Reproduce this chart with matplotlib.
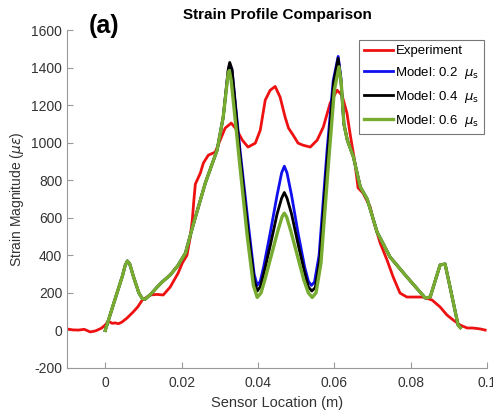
import numpy as np
import matplotlib
matplotlib.use("Agg")
import matplotlib.pyplot as plt

plt.rcParams['font.family'] = ['Liberation Sans', 'DejaVu Sans']
plt.rcParams['mathtext.fontset'] = 'dejavusans'
plt.rcParams['axes.unicode_minus'] = False

# experiment (red)
exp_x = [-0.01, -0.0085, -0.007, -0.0055, -0.0039, -0.0025, -0.001, 0, 0.0008, 0.0018, 0.0026,
         0.0035, 0.0044, 0.0057, 0.0073, 0.0085, 0.0097, 0.0118, 0.0135, 0.0152, 0.017, 0.0191,
         0.0202, 0.0214, 0.0222, 0.0228, 0.0232, 0.0236, 0.0249, 0.0257, 0.027, 0.0288, 0.0301,
         0.0314, 0.033, 0.0345, 0.0359, 0.0374, 0.0393, 0.0406, 0.0419, 0.0432, 0.0445, 0.0458,
         0.0471, 0.048, 0.0492, 0.0505, 0.0518, 0.0537, 0.0555, 0.0571, 0.0589, 0.0607, 0.062,
         0.0633, 0.0641, 0.0654, 0.0662, 0.0675, 0.0694, 0.0702, 0.072, 0.0738, 0.0754, 0.0772,
         0.079, 0.0806, 0.0832, 0.0856, 0.0877, 0.0895, 0.0911, 0.0929, 0.0948, 0.0963, 0.0982,
         0.0995]
exp_y = [8, 3, 2, 6, -8, -2, 12, 29, 50, 38, 40,
         36, 45, 66, 98, 125, 162, 189, 192, 189, 231, 306,
         360, 400, 490, 588, 690, 780, 838, 892, 934, 950, 1014,
         1078, 1105, 1067, 1014, 977, 998, 1067, 1227, 1280, 1300, 1243,
         1137, 1078, 1041, 998, 987, 977, 1014, 1083, 1211, 1280, 1254,
         1158, 1051, 892, 760, 732, 657, 588, 466, 375, 285, 199,
         178, 178, 178, 162, 125, 82, 56, 29, 13, 13, 8,
         2]

# model curves: shared outer parts
mod_left_x = [0, 0.002, 0.0045, 0.0052, 0.0058, 0.0064, 0.0075, 0.0088, 0.0097, 0.0105, 0.012,
              0.0136, 0.015, 0.017, 0.019, 0.021, 0.023, 0.0262, 0.0293, 0.0309]
mod_left_y = [0, 130, 290, 345, 370, 355, 280, 200, 170, 167, 195,
              231, 260, 295, 345, 412, 560, 785, 961, 1137]
mod_right_x = [0.0634, 0.065, 0.0668, 0.0686, 0.0712, 0.0746, 0.079, 0.0838, 0.0851, 0.0877,
               0.089, 0.0903, 0.0924, 0.093]
mod_right_y = [1014, 924, 764, 700, 524, 391, 285, 173, 178, 349,
               354, 231, 29, 15]

# central parts, one per model
blue_cx = [0.0322, 0.0326, 0.0332, 0.0353, 0.0375, 0.039, 0.0398, 0.0406, 0.0415, 0.0432, 0.045,
           0.0462, 0.0469, 0.0476, 0.0488, 0.0505, 0.0522, 0.0532, 0.054, 0.0548, 0.056, 0.0581,
           0.0597, 0.061, 0.0617, 0.0625]
blue_cy = [1380, 1420, 1390, 961, 560, 300, 240, 262, 340, 519, 720,
           840, 875, 840, 720, 519, 340, 262, 240, 258, 400, 961,
           1330, 1460, 1350, 1100]
black_cx = [0.0322, 0.0326, 0.0332, 0.0352, 0.0374, 0.039, 0.0398, 0.0406, 0.0416, 0.0433, 0.045,
            0.0462, 0.0469, 0.0476, 0.0488, 0.0505, 0.0522, 0.0532, 0.0541, 0.055, 0.0562, 0.0583,
            0.0598, 0.061, 0.0617, 0.0625]
black_cy = [1390, 1428, 1390, 950, 530, 270, 210, 232, 310, 460, 620,
            705, 735, 705, 620, 460, 310, 232, 210, 228, 380, 950,
            1320, 1450, 1340, 1100]
green_cx = [0.0322, 0.0325, 0.033, 0.035, 0.0372, 0.0388, 0.0398, 0.0408, 0.0418, 0.0435, 0.0452,
            0.0463, 0.0469, 0.0475, 0.0486, 0.0503, 0.052, 0.0532, 0.0542, 0.0552, 0.0565, 0.0585,
            0.06, 0.0612, 0.0618, 0.0625]
green_cy = [1371, 1385, 1330, 930, 500, 240, 176, 200, 270, 400, 530,
            605, 625, 605, 530, 400, 270, 200, 176, 200, 360, 900,
            1280, 1405, 1320, 1100]

labels = ['Experiment', r'Model: 0.2  $\mu_\mathrm{s}$', r'Model: 0.4  $\mu_\mathrm{s}$',
          r'Model: 0.6  $\mu_\mathrm{s}$']


def full(cx, cy):
    return mod_left_x + cx + mod_right_x, mod_left_y + cy + mod_right_y


fig = plt.figure(figsize=(4.93, 4.13), dpi=100)
ax = fig.add_axes([0.136, 0.109, 0.852, 0.818])

ax.plot(exp_x, exp_y, color='#ee1111', lw=2, label=labels[0])
bx, by = full(blue_cx, blue_cy)
ax.plot(bx, by, color='#1010ee', lw=2, label=labels[1])
kx, ky = full(black_cx, black_cy)
ax.plot(kx, ky, color='black', lw=2, label=labels[2])
gx, gy = full(green_cx, green_cy)
ax.plot(gx, gy, color='#77ac30', lw=2.4, label=labels[3])

ax.set_xlim(-0.01, 0.1)
ax.set_ylim(-200, 1600)
ax.set_xticks([0, 0.02, 0.04, 0.06, 0.08, 0.1])
ax.set_xticklabels(['0', '0.02', '0.04', '0.06', '0.08', '0.1'])
ax.set_yticks(np.arange(-200, 1601, 200))
for s in ['top', 'right']:
    ax.spines[s].set_visible(False)
for s in ['left', 'bottom']:
    ax.spines[s].set_color('#999999')
ax.tick_params(direction='in', length=4, color='#999999', labelcolor='#333333', labelsize=10)
ax.tick_params(axis='x', pad=6)

ax.set_xlabel('Sensor Location (m)', fontsize=10.5, color='#333333', labelpad=4)
ax.set_ylabel(r'Strain Magnitude ($\mu\epsilon$)', fontsize=10, color='#333333')
ax.set_title('Strain Profile Comparison', fontsize=11, fontweight='bold', pad=8)
fig.text(0.211, 0.937, '(a)', fontsize=18, fontweight='bold', ha='center', va='center')

leg = ax.legend(loc='upper right', bbox_to_anchor=(0.993, 0.97), fontsize=9.5,
                fancybox=False, framealpha=1, edgecolor='#777777', borderaxespad=0,
                handlelength=2.2, handletextpad=0.2, labelspacing=0.6, borderpad=0.35)
leg.get_frame().set_linewidth(0.8)

fig.savefig('out.png', dpi=100)
